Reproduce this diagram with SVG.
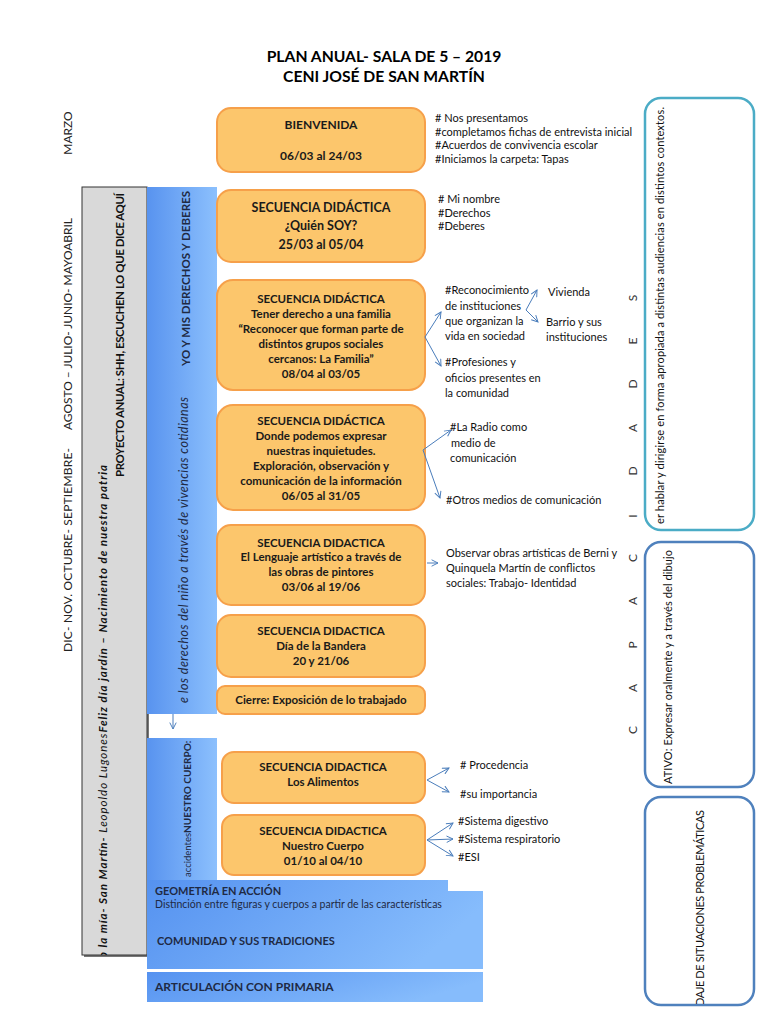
<svg xmlns="http://www.w3.org/2000/svg" width="768" height="1024" viewBox="0 0 768 1024">
<defs>
<style>
text{font-family:Lato,"Open Sans","Liberation Sans",sans-serif;fill:#1a1a1a}
.title{font-size:15.7px;font-weight:bold;text-anchor:middle;fill:#000}
.box{fill:#fcc66c;stroke:#f6a04a;stroke-width:2}
.bt{font-size:12px;font-weight:bold;text-anchor:middle}
.nt{font-size:11px;fill:#111}
.side{font-size:12px;fill:#222}
.cap{font-size:12px;fill:#333;text-anchor:middle}
.panel{fill:#fff;stroke-width:2.5}
.conn{fill:none;stroke:#4a7dbb;stroke-width:1}
.wt{font-size:12px;font-weight:bold;fill:#1f2a44}
</style>
<marker id="arr" viewBox="0 0 10 10" refX="9" refY="5" markerWidth="8" markerHeight="8" orient="auto" markerUnits="userSpaceOnUse">
<path d="M1,1 L9,5 L1,9" fill="none" stroke="#4a7dbb" stroke-width="1.2"/>
</marker>
<linearGradient id="blue" x1="0" y1="0" x2="1" y2="0">
<stop offset="0" stop-color="#5893ef"/>
<stop offset="1" stop-color="#8cc0fd"/>
</linearGradient>
<linearGradient id="blue2" x1="0" y1="0" x2="1" y2="0.3">
<stop offset="0" stop-color="#5592f0"/>
<stop offset="1" stop-color="#86bcfc"/>
</linearGradient>
<clipPath id="cgray"><rect x="82" y="187" width="65" height="768"/></clipPath>
<clipPath id="cp1"><rect x="645" y="99" width="109" height="430"/></clipPath>
<clipPath id="cp2"><rect x="645" y="543" width="109" height="243"/></clipPath>
<clipPath id="cp3"><rect x="645" y="798" width="109" height="206"/></clipPath>
</defs>
<rect width="768" height="1024" fill="#fff"/>

<g id="title">
<text class="title" x="384" y="62">PLAN ANUAL- SALA DE 5 – 2019</text>
<text class="title" x="384" y="82">CENI JOSÉ DE SAN MARTÍN</text>
</g>

<g id="months">
<text class="side" transform="translate(72,133) rotate(-90)" text-anchor="middle">MARZO</text>
<text class="side" transform="translate(72,430) rotate(-90)" textLength="212" lengthAdjust="spacing">AGOSTO – JULIO- JUNIO-  MAYOABRIL</text>
<text class="side" transform="translate(72,652) rotate(-90)" textLength="204" lengthAdjust="spacing">DIC- NOV.    OCTUBRE-    SEPTIEMBRE-</text>
</g>

<g id="proyecto">
<rect x="84" y="189" width="65" height="768" fill="#777"/>
<rect x="82" y="187" width="65" height="768" fill="#d9d9d9" stroke="#333" stroke-width="1"/>
<g clip-path="url(#cgray)">
<text class="wt" style="fill:#111;font-size:11.5px" transform="translate(124,477) rotate(-90)" textLength="284" lengthAdjust="spacing">PROYECTO ANUAL: SHH, ESCUCHEN LO QUE DICE AQUÍ</text>
<text style="font-size:11.5px;font-style:italic;fill:#111" transform="translate(107,958) rotate(-90)" textLength="493" lengthAdjust="spacing"><tspan font-weight="bold">o la mía- San Martín-</tspan> Leopoldo Lugones<tspan font-weight="bold">Feliz día jardín – Nacimiento de nuestra patria</tspan></text>
</g>
</g>

<g id="eje-derechos">
<rect x="147" y="187" width="70" height="527" fill="url(#blue)"/>
<text class="wt" style="font-size:11.5px" transform="translate(190,366) rotate(-90)">YO Y MIS DERECHOS Y DEBERES</text>
<text style="font-size:12.5px;font-style:italic;fill:#1f2a44" transform="translate(188,703) rotate(-90)" textLength="306" lengthAdjust="spacing">e  los derechos del niño a través de  vivencias cotidianas</text>
</g>

<g id="eje-cuerpo">
<rect x="147" y="738" width="70" height="142" fill="url(#blue)"/>
<text class="wt" style="font-size:10px" transform="translate(191,877) rotate(-90)"><tspan font-weight="normal" font-size="9.5px">accidentes</tspan>NUESTRO CUERPO:</text>
</g>

<g id="geometria">
<path d="M147,880 H448 V891 H483 V969 H147 Z" fill="url(#blue2)"/>
<text class="wt" style="font-size:11px" x="155" y="895">GEOMETRÍA EN ACCIÓN</text>
<text style="font-size:10.5px;fill:#1f2a44" x="155" y="908">Distinción entre figuras y cuerpos a partir de las características</text>
<text class="wt" style="font-size:11px" x="157" y="945">COMUNIDAD Y SUS TRADICIONES</text>
</g>

<g id="articulacion">
<rect x="147" y="972" width="336" height="30" fill="url(#blue2)"/>
<text class="wt" style="font-size:12px" x="155" y="991">ARTICULACIÓN CON PRIMARIA</text>
</g>

<g id="bienvenida">
<rect class="box" x="217" y="108" width="208" height="64" rx="14"/>
<text class="bt" x="321" y="129">BIENVENIDA</text>
<text class="bt" x="321" y="160">06/03 al 24/03</text>
</g>

<g id="quien-soy">
<rect class="box" x="217" y="190" width="208" height="72" rx="14"/>
<text class="bt" style="font-size:12.5px" x="321" y="212">SECUENCIA DIDÁCTICA</text>
<text class="bt" style="font-size:12.5px" x="321" y="230">¿Quién SOY?</text>
<text class="bt" style="font-size:12.5px" x="321" y="249">25/03 al 05/04</text>
</g>

<g id="familia">
<rect class="box" x="217" y="280" width="208" height="110" rx="16"/>
<text class="bt" style="font-size:11.5px" x="321" y="303">SECUENCIA DIDÁCTICA</text>
<text class="bt" style="font-size:11.5px" x="321" y="318">Tener derecho a una familia</text>
<text class="bt" style="font-size:11.5px" x="321" y="333">“Reconocer que forman parte de</text>
<text class="bt" style="font-size:11.5px" x="321" y="348">distintos grupos sociales</text>
<text class="bt" style="font-size:11.5px" x="321" y="363">cercanos: La Familia”</text>
<text class="bt" style="font-size:11.5px" x="321" y="378">08/04 al 03/05</text>
</g>

<g id="inquietudes">
<rect class="box" x="217" y="405" width="208" height="105" rx="16"/>
<text class="bt" style="font-size:11.5px" x="321" y="425">SECUENCIA DIDÁCTICA</text>
<text class="bt" style="font-size:11.5px" x="321" y="440">Donde podemos expresar</text>
<text class="bt" style="font-size:11.5px" x="321" y="455">nuestras inquietudes.</text>
<text class="bt" style="font-size:11.5px" x="321" y="470">Exploración, observación y</text>
<text class="bt" style="font-size:11.5px" x="321" y="485">comunicación de la información</text>
<text class="bt" style="font-size:11.5px" x="321" y="500">06/05 al 31/05</text>
</g>

<g id="lenguaje">
<rect class="box" x="217" y="525" width="208" height="80" rx="14"/>
<text class="bt" style="font-size:11.5px" x="321" y="547">SECUENCIA DIDACTICA</text>
<text class="bt" style="font-size:11.5px" x="321" y="561">El Lenguaje artístico a través de</text>
<text class="bt" style="font-size:11.5px" x="321" y="576">las obras de pintores</text>
<text class="bt" style="font-size:11.5px" x="321" y="591">03/06 al 19/06</text>
</g>

<g id="bandera">
<rect class="box" x="217" y="615" width="208" height="62" rx="14"/>
<text class="bt" style="font-size:11.5px" x="321" y="635">SECUENCIA DIDACTICA</text>
<text class="bt" style="font-size:11.5px" x="321" y="650">Día de la Bandera</text>
<text class="bt" style="font-size:11.5px" x="321" y="665">20 y 21/06</text>
</g>

<g id="cierre">
<rect class="box" x="217" y="686" width="208" height="28" rx="8"/>
<text class="bt" style="font-size:11.5px" x="321" y="704">Cierre: Exposición de lo trabajado</text>
</g>

<g id="alimentos">
<rect class="box" x="222" y="752" width="203" height="51" rx="12"/>
<text class="bt" style="font-size:11.5px" x="323" y="771">SECUENCIA DIDACTICA</text>
<text class="bt" style="font-size:11.5px" x="323" y="786">Los Alimentos</text>
</g>

<g id="cuerpo">
<rect class="box" x="222" y="815" width="203" height="60" rx="12"/>
<text class="bt" style="font-size:11.5px" x="323" y="835">SECUENCIA DIDACTICA</text>
<text class="bt" style="font-size:11.5px" x="323" y="850">Nuestro Cuerpo</text>
<text class="bt" style="font-size:11.5px" x="323" y="865">01/10 al 04/10</text>
</g>

<g id="notas-bienvenida">
<text class="nt" x="435" y="122">#  Nos presentamos</text>
<text class="nt" x="435" y="136">#completamos fichas de entrevista inicial</text>
<text class="nt" x="435" y="149">#Acuerdos de convivencia escolar</text>
<text class="nt" x="435" y="163">#Iniciamos la carpeta: Tapas</text>
</g>

<g id="notas-quien">
<text class="nt" x="438" y="203"># Mi nombre</text>
<text class="nt" x="438" y="217">#Derechos</text>
<text class="nt" x="438" y="230">#Deberes</text>
</g>

<g id="notas-familia">
<text class="nt" x="445" y="294">#Reconocimiento</text>
<text class="nt" x="445" y="310">de instituciones</text>
<text class="nt" x="445" y="325">que organizan la</text>
<text class="nt" x="445" y="340">vida en sociedad</text>
<text class="nt" x="548" y="296">Vivienda</text>
<text class="nt" x="546" y="326">Barrio y sus</text>
<text class="nt" x="546" y="341">instituciones</text>
<text class="nt" x="445" y="366">#Profesiones y</text>
<text class="nt" x="445" y="382">oficios presentes en</text>
<text class="nt" x="445" y="397">la comunidad</text>
</g>

<g id="notas-radio">
<text class="nt" x="450" y="431">#La Radio como</text>
<text class="nt" x="451" y="447">medio de</text>
<text class="nt" x="450" y="462">comunicación</text>
<text class="nt" x="446" y="504">#Otros medios de comunicación</text>
</g>

<g id="notas-arte">
<text class="nt" x="446" y="557">Observar obras artísticas de Berni y</text>
<text class="nt" x="446" y="572">Quinquela Martín  de conflictos</text>
<text class="nt" x="446" y="587">sociales: Trabajo- Identidad</text>
</g>

<g id="notas-alimentos">
<text class="nt" x="460" y="769"># Procedencia</text>
<text class="nt" x="460" y="798">#su importancia</text>
</g>

<g id="notas-cuerpo">
<text class="nt" x="458" y="825">#Sistema digestivo</text>
<text class="nt" x="458" y="843">#Sistema respiratorio</text>
<text class="nt" x="458" y="861">#ESI</text>
</g>

<g id="connectors">
<path class="conn" d="M425,337 L441,312" marker-end="url(#arr)"/>
<path class="conn" d="M425,337 L441,366" marker-end="url(#arr)"/>
<path class="conn" d="M526,310 L537,290" marker-end="url(#arr)"/>
<path class="conn" d="M526,310 L538,322" marker-end="url(#arr)"/>
<path class="conn" d="M423,450 L451,430" marker-end="url(#arr)"/>
<path class="conn" d="M423,450 L440,498" marker-end="url(#arr)"/>
<path class="conn" d="M427,563 L438,563" marker-end="url(#arr)"/>
<path class="conn" d="M427,780 L449,768" marker-end="url(#arr)"/>
<path class="conn" d="M427,780 L449,792" marker-end="url(#arr)"/>
<path class="conn" d="M427,840 L453,823" marker-end="url(#arr)"/>
<path class="conn" d="M427,840 L453,839" marker-end="url(#arr)"/>
<path class="conn" d="M427,840 L453,856" marker-end="url(#arr)"/>
<path class="conn" d="M173,714 L173,729" marker-end="url(#arr)"/>
</g>

<g id="capacidades">
<text class="cap" transform="translate(637,0) rotate(-90)" x="-730 -688 -645 -601 -558 -516 -471 -428 -384 -341 -298" y="0">CAPACIDADES</text>
</g>

<g id="panel-oral">
<rect class="panel" x="645" y="98" width="109" height="432" rx="16" stroke="#4bacc6"/>
<g clip-path="url(#cp1)">
<text style="font-size:11px;fill:#111" transform="translate(664,524) rotate(-90)" textLength="417" lengthAdjust="spacing">er hablar y dirigirse en forma apropiada a distintas audiencias en distintos contextos.</text>
</g>
</g>

<g id="panel-expresar">
<rect class="panel" x="645" y="542" width="109" height="245" rx="16" stroke="#4f81bd"/>
<g clip-path="url(#cp2)">
<text style="font-size:11px;fill:#111" transform="translate(672,784) rotate(-90)" textLength="234" lengthAdjust="spacing">ATIVO: Expresar oralmente y a través del dibujo</text>
</g>
</g>

<g id="panel-situaciones">
<rect class="panel" x="645" y="797" width="109" height="208" rx="16" stroke="#4f81bd"/>
<g clip-path="url(#cp3)">
<text style="font-size:11px;fill:#111" transform="translate(704,1006) rotate(-90)" textLength="196" lengthAdjust="spacing">DAJE DE SITUACIONES PROBLEMÁTICAS</text>
</g>
</g>
</svg>
